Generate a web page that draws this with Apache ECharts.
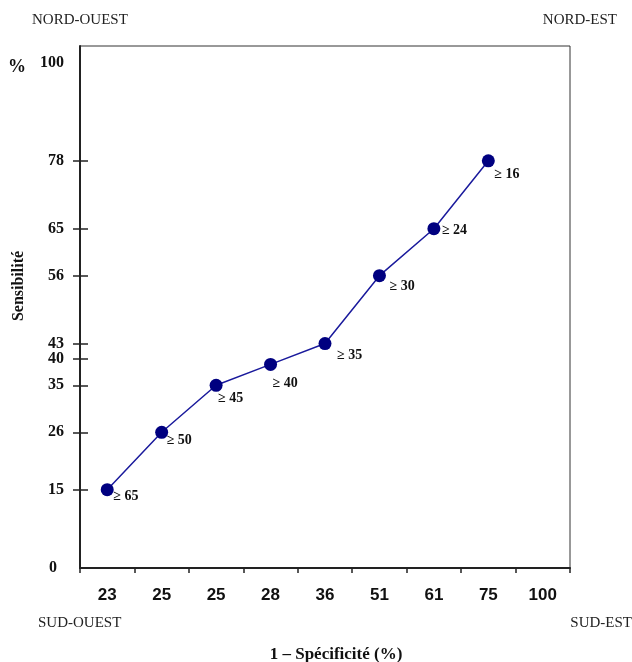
<!DOCTYPE html>
<html>
<head>
<meta charset="utf-8">
<script src="https://cdn.jsdelivr.net/npm/echarts@6/dist/echarts.min.js"></script>
<style>html,body{margin:0;padding:0;background:#fff;}#c{width:632px;height:662px;}</style>
</head>
<body>
<div id="c"></div>
<script>
// ---- data ----
const categories = ['23', '25', '25', '28', '36', '51', '61', '75', '100'];
const sensibilite = [15, 26, 35, 39, 43, 56, 65, 78];
const seuils = ['65', '50', '45', '40', '35', '30', '24', '16'];
const yTickLabels = [0, 15, 26, 35, 40, 43, 56, 65, 78, 100];
const yTicks = [15, 26, 35, 40, 43, 56, 65, 78];
// label offsets (style only)
const labelOffsets = [[-0.5, 7], [-1.5, 8], [-4.5, 13], [-4.5, 19], [5.5, 12], [3.5, 11], [1.5, 2], [-0.5, 14]];

const chart = echarts.init(document.getElementById('c'), null, {renderer: 'canvas'});
const serif = '"Liberation Serif", "Times New Roman", serif';
const sans = '"Liberation Sans", Arial, sans-serif';

const pointLabelStyle = {fontFamily: serif, fontSize: 14, fontWeight: 'bold', color: '#111'};

const seriesData = sensibilite.map((v, i) => ({
  value: v,
  label: Object.assign({
    show: true,
    position: 'right',
    distance: 0,
    offset: labelOffsets[i],
    formatter: '≥ ' + seuils[i]
  }, pointLabelStyle)
}));

const cornerStyle = {fontFamily: serif, fontSize: 15, fontWeight: 'normal', color: '#222'};
const yLabelFont = {fontFamily: serif, fontSize: 16, fontWeight: 'bold', color: '#111'};

chart.setOption({
  animation: false,
  backgroundColor: '#fff',
  title: [
    {text: 'NORD-OUEST', left: 32, top: 13, padding: 0, textStyle: cornerStyle},
    {text: 'NORD-EST', right: 15, top: 13, padding: 0, textStyle: cornerStyle},
    {text: 'SUD-OUEST', left: 38, top: 616, padding: 0, textStyle: cornerStyle},
    {text: 'SUD-EST', right: 0, top: 616, padding: 0, textStyle: cornerStyle},
    {text: '%', left: 8, top: 58, padding: 0, textStyle: {fontFamily: serif, fontSize: 18, fontWeight: 'bold', color: '#111'}}
  ],
  grid: {left: 80, right: 62, top: 46, bottom: 94, show: true, borderColor: '#333', borderWidth: 1,
         containLabel: false, outerBoundsMode: 'none'},
  xAxis: {
    type: 'category',
    data: categories,
    boundaryGap: true,
    name: '1 – Spécificité (%)',
    nameLocation: 'middle',
    nameGap: 78,
    nameTextStyle: {fontFamily: serif, fontSize: 17, fontWeight: 'bold', color: '#111', padding: [0, 0, 0, 22]},
    axisLine: {lineStyle: {color: '#222', width: 2}},
    axisTick: {show: true, length: 5, lineStyle: {color: '#222', width: 1.5}},
    axisLabel: {fontFamily: sans, fontSize: 17, fontWeight: 'bold', color: '#111', margin: 19, interval: 0},
    splitLine: {show: false}
  },
  yAxis: [
    {
      type: 'value',
      min: 0,
      max: 100,
      name: 'Sensibilité',
      nameLocation: 'middle',
      nameRotate: 90,
      nameGap: 53,
      nameTextStyle: {fontFamily: serif, fontSize: 16, fontWeight: 'bold', color: '#111', padding: [0, 0, 0, 42]},
      axisLine: {show: true, lineStyle: {color: '#222', width: 2}},
      axisTick: {show: true, length: 7, customValues: yTicks, lineStyle: {color: '#222', width: 1.5}},
      axisLabel: Object.assign({
        customValues: yTickLabels,
        margin: 16,
        formatter: function (v) {
          if (v === 100) return '{t|100}';
          if (v === 0) return '{z|0}';
          return String(v);
        },
        rich: {
          t: Object.assign({padding: [34, 0, 0, 0]}, yLabelFont),
          z: Object.assign({padding: [0, 7, 0, 0]}, yLabelFont)
        }
      }, yLabelFont),
      splitLine: {show: false}
    },
    {
      type: 'value',
      min: 0,
      max: 100,
      position: 'left',
      offset: 0,
      axisLine: {show: false},
      axisTick: {show: true, inside: true, length: 8, customValues: yTicks, lineStyle: {color: '#222', width: 1.5}},
      axisLabel: {show: false},
      splitLine: {show: false}
    }
  ],
  series: [{
    type: 'line',
    data: seriesData,
    symbol: 'circle',
    symbolSize: 13,
    itemStyle: {color: '#000080'},
    lineStyle: {color: '#1a1a9c', width: 1.5},
    label: pointLabelStyle,
    z: 5
  }]
});
</script>
</body>
</html>
